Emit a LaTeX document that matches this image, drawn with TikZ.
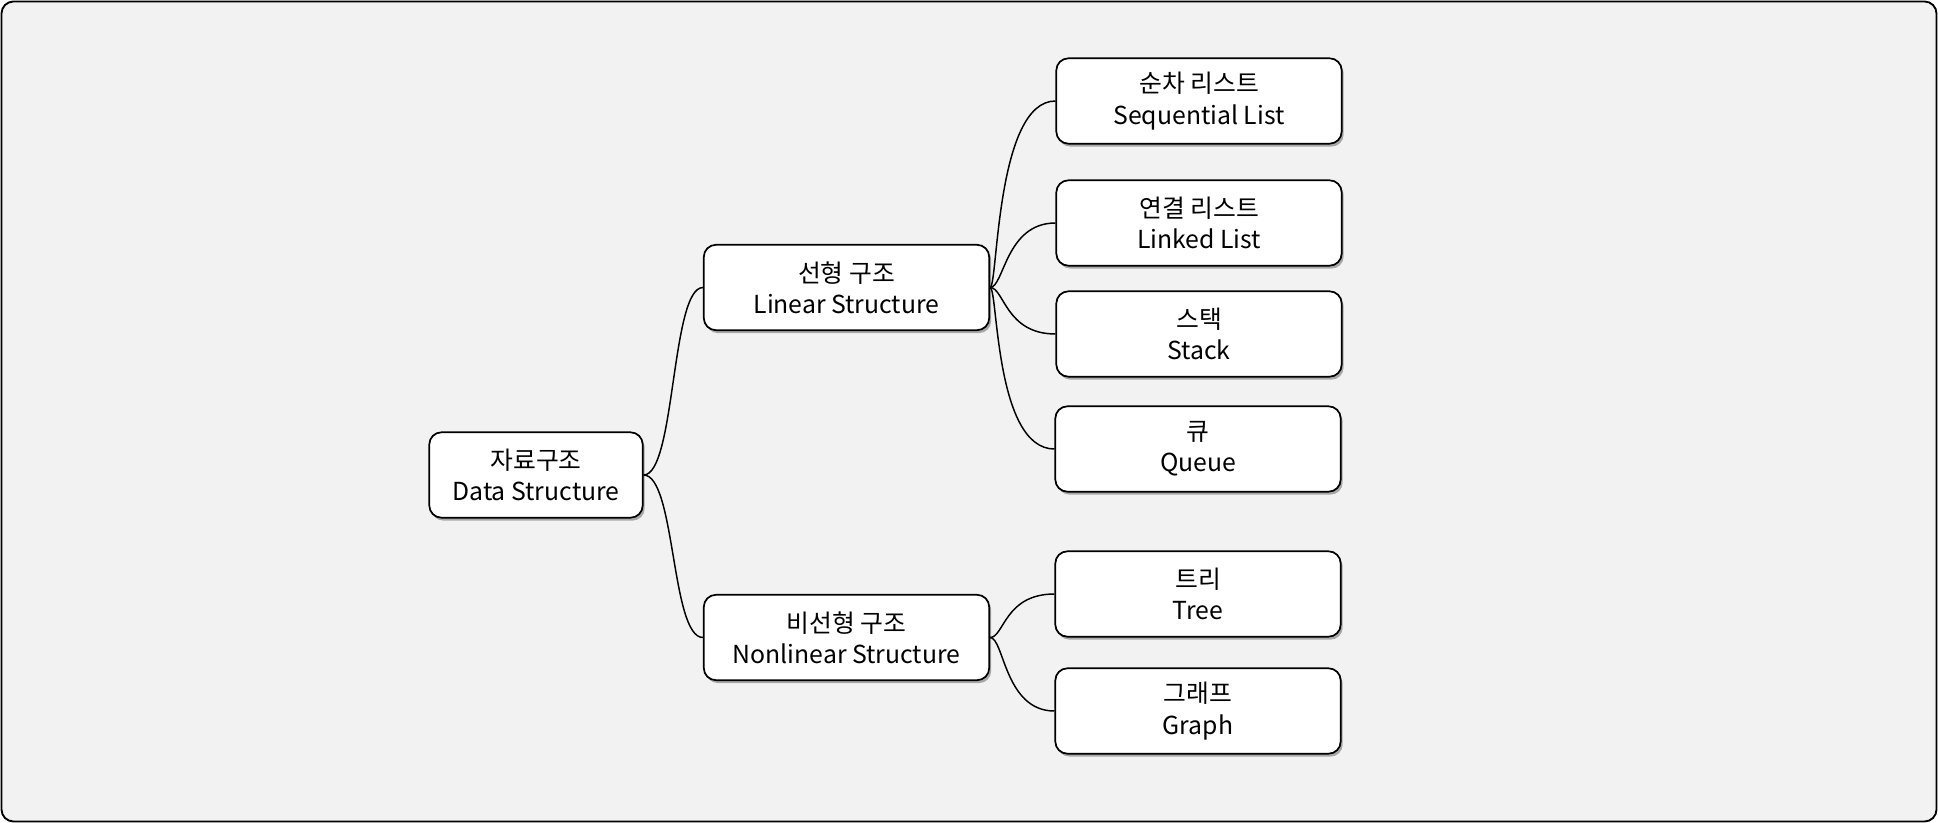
\documentclass[tikz,border=0pt]{standalone}
\usepackage{fontspec}
\setmainfont{Noto Sans CJK KR}
\usetikzlibrary{shadows}

\begin{document}
\begin{tikzpicture}[x=0.75pt,y=-0.75pt,
  mmbox/.style={draw,line width=1.3pt,rounded corners=9pt,fill=white,align=center,
    font=\fontsize{18.6}{23.5}\selectfont,minimum width=214pt,minimum height=64pt,inner sep=0pt,
    drop shadow={shadow xshift=1.5pt,shadow yshift=-2.2pt,opacity=0.3,fill=black}},
  mmlink/.style={line width=1.1pt}]
  \useasboundingbox (0,0) rectangle (1938,823);
  \draw[line width=1.4pt,rounded corners=9pt,fill=black!5] (1.5,1.5) rectangle (1936.5,821.5);
  % root and the two kinds
  \node[mmbox,minimum width=160pt] (root) at (536,475) {자료구조\\Data Structure};
  \node[mmbox] (lin) at (846.5,287.5) {선형 구조\\Linear Structure};
  \node[mmbox] (non) at (846.5,637.5) {비선형 구조\\Nonlinear Structure};
  % leaves
  \node[mmbox] (seq) at (1199,101) {순차 리스트\\Sequential List};
  \node[mmbox] (lnk) at (1199,223) {연결 리스트\\Linked List};
  \node[mmbox] (stk) at (1199,334) {스택\\Stack};
  \node[mmbox] (que) at (1198,449) {큐\\Queue};
  \node[mmbox] (tre) at (1198,594) {트리\\Tree};
  \node[mmbox] (gra) at (1198,711) {그래프\\Graph};
  % branches
  \draw[mmlink] (root.east) .. controls +(32,0) and +(-32,0) .. (lin.west);
  \draw[mmlink] (root.east) .. controls +(32,0) and +(-32,0) .. (non.west);
  \draw[mmlink] (lin.east) .. controls +(8,0) and +(-60,0) .. (seq.west);
  \draw[mmlink] (lin.east) .. controls +(14,0) and +(-50,0) .. (lnk.west);
  \draw[mmlink] (lin.east) .. controls +(14,0) and +(-50,0) .. (stk.west);
  \draw[mmlink] (lin.east) .. controls +(8,0) and +(-60,0) .. (que.west);
  \draw[mmlink] (non.east) .. controls +(14,0) and +(-50,0) .. (tre.west);
  \draw[mmlink] (non.east) .. controls +(14,0) and +(-50,0) .. (gra.west);
\end{tikzpicture}
\end{document}
